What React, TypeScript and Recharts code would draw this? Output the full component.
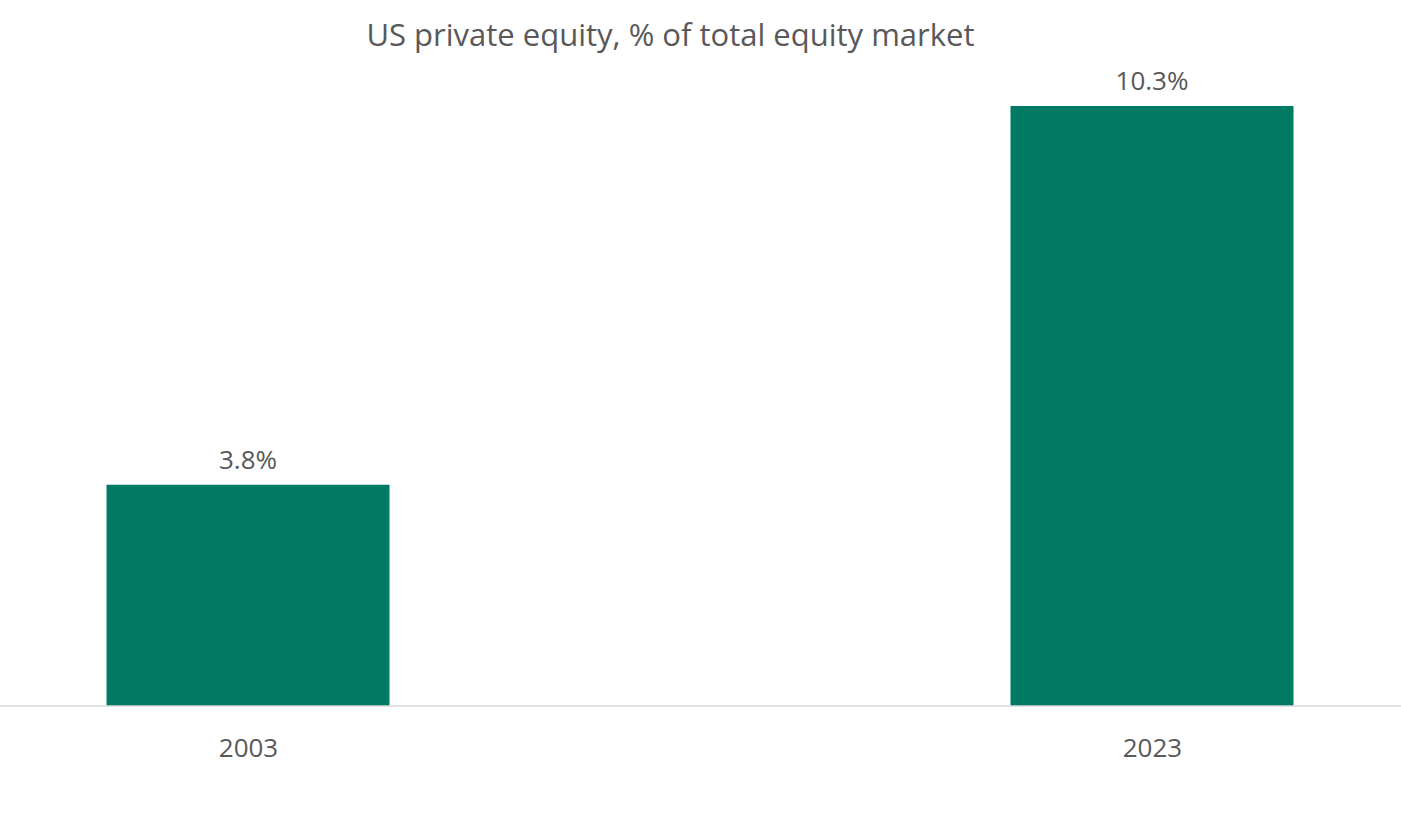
import React from 'react';
import { BarChart, Bar, XAxis, YAxis, LabelList } from 'recharts';

const years = ['2003', '2023'];
const shares = [3.8, 10.3];

const data = years.map((year, i) => ({ idx: i, year, share: shares[i] }));

const FONT = '"Open Sans", "Noto Sans", sans-serif';
const TEXT = '#595959';

export default function App() {
  return (
    <div
      style={{
        position: 'absolute',
        left: 0,
        top: 0,
        width: 1401,
        height: 814,
        background: '#fff',
        fontFamily: FONT,
      }}
    >
      <div
        style={{
          position: 'absolute',
          top: 12,
          left: 0,
          width: 1341,
          textAlign: 'center',
          fontSize: 31,
          color: TEXT,
          lineHeight: '44px',
        }}
      >
        US private equity, % of total equity market
      </div>
      <BarChart
        width={1401}
        height={814}
        data={data}
        margin={{ top: 7, right: 0, left: 0, bottom: 48 }}
      >
        <XAxis
          type="number"
          dataKey="idx"
          domain={[-0.2749, 1.2749]}
          ticks={[0, 1]}
          allowDataOverflow
          tickFormatter={(v: number) => years[v]}
          height={60}
          axisLine={{ stroke: '#d9d9d9', strokeWidth: 1.5 }}
          tickLine={false}
          tickMargin={27}
          tick={{ fill: TEXT, fontSize: 26, fontFamily: FONT }}
        />
        <YAxis hide domain={[0, 12]} />
        <Bar dataKey="share" fill="#007A63" barSize={283} isAnimationActive={false}>
          <LabelList
            dataKey="share"
            position="top"
            offset={16}
            formatter={(v: number) => `${v.toFixed(1)}%`}
            fill={TEXT}
            fontSize={26}
            fontFamily={FONT}
          />
        </Bar>
      </BarChart>
    </div>
  );
}
